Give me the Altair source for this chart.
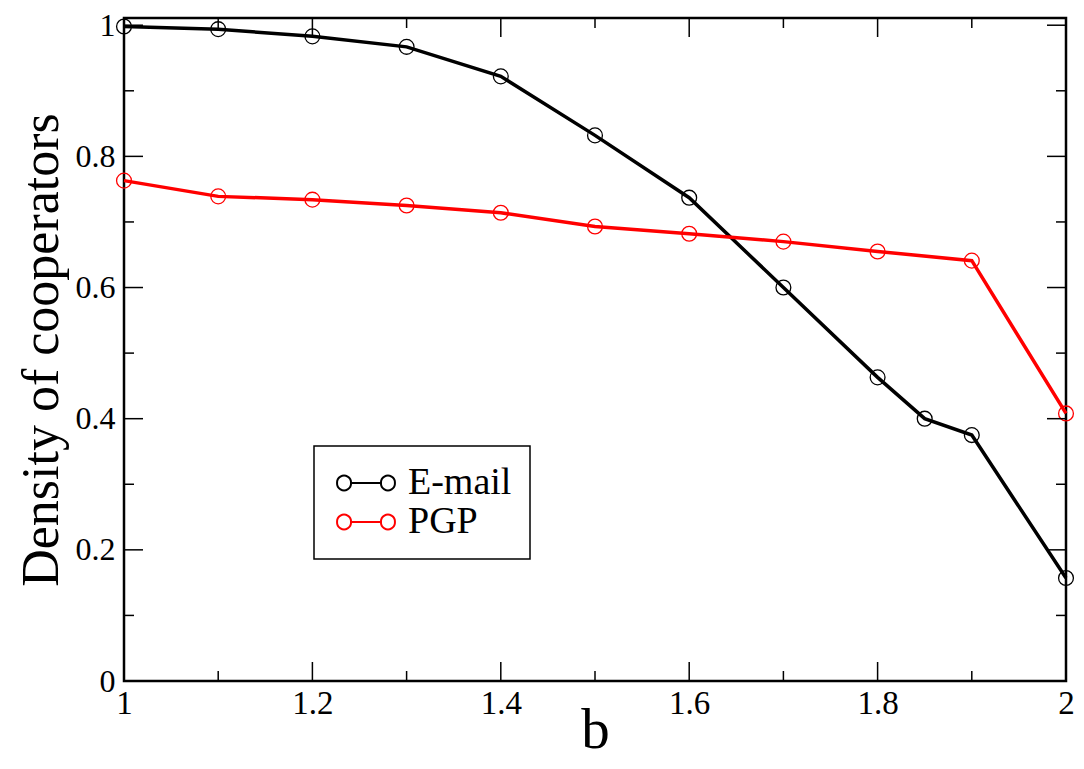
import altair as alt
import pandas as pd

b_values = [1.0, 1.1, 1.2, 1.3, 1.4, 1.5, 1.6, 1.7, 1.8, 1.85, 1.9, 2.0]
email = [0.998, 0.994, 0.983, 0.967, 0.922, 0.832, 0.737, 0.600, 0.463, 0.400, 0.375, 0.157]
b_pgp = [1.0, 1.1, 1.2, 1.3, 1.4, 1.5, 1.6, 1.7, 1.8, 1.9, 2.0]
pgp = [0.763, 0.739, 0.734, 0.725, 0.714, 0.693, 0.682, 0.670, 0.655, 0.641, 0.408]
series_names = ["E-mail", "PGP"]
series_colors = ["#000000", "#ff0000"]

x_major = [1.0, 1.2, 1.4, 1.6, 1.8, 2.0]
x_minor = [1.1, 1.3, 1.5, 1.7, 1.9]
y_major = [0.0, 0.2, 0.4, 0.6, 0.8, 1.0]
y_minor = [0.1, 0.3, 0.5, 0.7, 0.9]

W, H = 942, 663
FONT = "Liberation Serif"

df = pd.concat([
    pd.DataFrame({"b": b_values, "density": email, "series": "E-mail", "order": range(len(b_values))}),
    pd.DataFrame({"b": b_pgp, "density": pgp, "series": "PGP", "order": range(len(b_pgp))}),
])

xscale = alt.Scale(domain=[1, 2], nice=False, zero=False)
yscale = alt.Scale(domain=[0, 1.011], nice=False)
color = alt.Color(
    "series:N",
    scale=alt.Scale(domain=series_names, range=series_colors),
    legend=alt.Legend(title=None),
)

xaxis = alt.Axis(values=x_major, format="~g", ticks=False, domain=False, grid=False,
                 labelFlush=False,
                 labelFont=FONT, labelFontSize=33, labelColor="black", labelPadding=6,
                 title="b", titleFont=FONT, titleFontSize=57, titleFontWeight="normal",
                 titleColor="black", titleY=66, titleBaseline="alphabetic")
yaxis = alt.Axis(values=y_major, format="~g", ticks=False, domain=False, grid=False,
                 labelFlush=False,
                 labelFont=FONT, labelFontSize=32, labelColor="black", labelPadding=9,
                 title="Density of cooperators", titleFont=FONT, titleFontSize=52,
                 titleFontWeight="normal", titleColor="black", titleX=-67,
                 titleBaseline="alphabetic")

line = alt.Chart(df).mark_line(strokeWidth=3.5).encode(
    x=alt.X("b:Q", scale=xscale, axis=xaxis),
    y=alt.Y("density:Q", scale=yscale, axis=yaxis),
    color=color,
    order="order:Q",
    detail="series:N",
)
points = alt.Chart(df).mark_point(size=220, filled=False, strokeWidth=1.3, opacity=1).encode(
    x=alt.X("b:Q"),
    y=alt.Y("density:Q"),
    color=color,
)

def xticks(vals, length):
    d = pd.DataFrame({"b": vals})
    bottom = alt.Chart(d).mark_rule(color="black", strokeWidth=1.5).encode(
        x=alt.X("b:Q"), y=alt.value(H), y2=alt.value(H - length))
    top = alt.Chart(d).mark_rule(color="black", strokeWidth=1.5).encode(
        x=alt.X("b:Q"), y=alt.value(0), y2=alt.value(length))
    return [bottom, top]

def yticks(vals, length):
    d = pd.DataFrame({"density": vals})
    left = alt.Chart(d).mark_rule(color="black", strokeWidth=1.5).encode(
        y=alt.Y("density:Q"), x=alt.value(0), x2=alt.value(length))
    right = alt.Chart(d).mark_rule(color="black", strokeWidth=1.5).encode(
        y=alt.Y("density:Q"), x=alt.value(W), x2=alt.value(W - length))
    return [left, right]

layers = [line, points] + xticks(x_major, 19) + xticks(x_minor, 10) + yticks(y_major, 19) + yticks(y_minor, 10)

# legend glyph: open circle - thick line - open circle (unit box = 30 px)
legend_symbol = ("M -1.93 0 A 0.467 0.467 0 1 0 -0.997 0 A 0.467 0.467 0 1 0 -1.93 0 "
                 "M -0.997 0 L 0.997 0 "
                 "M 0.997 0 A 0.467 0.467 0 1 0 1.93 0 A 0.467 0.467 0 1 0 0.997 0")

chart = alt.layer(*layers).properties(
    width=W, height=H,
    autosize=alt.AutoSizeParams(type="none"),
    padding={"left": 116, "top": 10, "right": 10, "bottom": 80},
).configure_view(
    stroke="black", strokeWidth=2.5
).configure_legend(
    orient="none", legendX=190, legendY=428,
    strokeColor="black", strokeWidth=1.5, fillColor="white",
    padding=18, rowPadding=1,
    labelFont=FONT, labelFontSize=38, labelColor="black", labelOffset=23,
    symbolType=legend_symbol, symbolSize=900, symbolStrokeWidth=2,
    symbolOffset=15,
    symbolFillColor="transparent",
)

chart.save("out.html", embed_options={"renderer": "svg", "actions": False})
